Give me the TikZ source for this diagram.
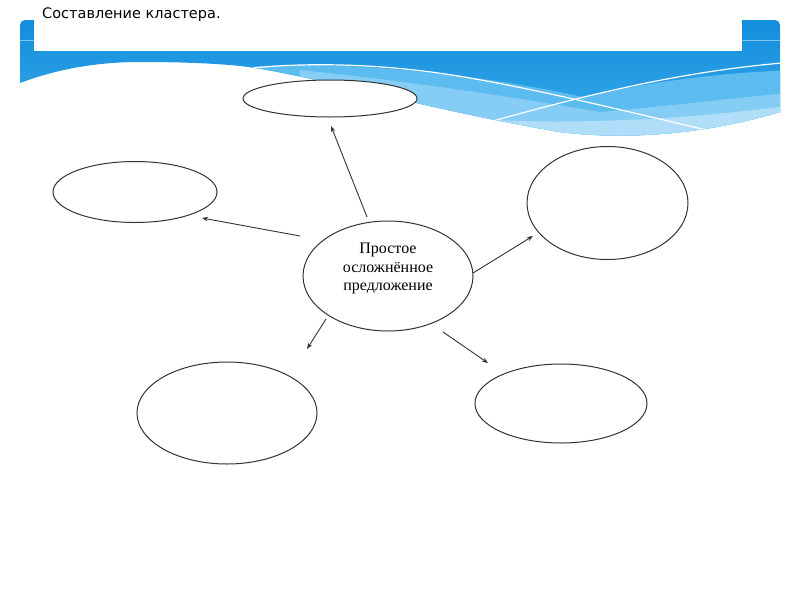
\documentclass[tikz,border=0pt]{standalone}
\usepackage{fontspec}
\setmainfont{Liberation Serif}
\newfontfamily\titlefont{DejaVu Sans}
\usetikzlibrary{shapes.geometric,arrows.meta}
\definecolor{bluetop}{HTML}{138DDC}
\definecolor{bluemid}{HTML}{3AADEA}
\definecolor{bandA}{HTML}{5CBBEF}
\definecolor{bandB}{HTML}{86CDF5}
\definecolor{bandC}{HTML}{B0DEF9}
\definecolor{edgegray}{HTML}{333333}
\newcommand\mybannerpath{(20,83) [rounded corners=5pt] -- (20,20) -- (780,20) [sharp corners] -- (780,112)
  .. controls (720,130) and (640,142) .. (560,132)
  .. controls (430,110) and (330,80) .. (255,68)
  .. controls (230,64) and (190,62) .. (140,62)
  .. controls (100,62) and (60,68) .. (20,83) -- cycle}
\begin{document}
\begin{tikzpicture}[x=1pt,y=-1pt,
  bubble/.style={ellipse,draw=edgegray,line width=1pt,fill=white,inner sep=0pt},
  arr/.style={draw=edgegray,line width=0.9pt,-{Stealth[length=6pt,width=4.5pt]}},
  wline/.style={draw=white,line width=1.2pt}]
\useasboundingbox (0,0) rectangle (800,600);
\fill[white] (0,0) rectangle (800,600);

% banner
\begin{scope}
\clip \mybannerpath;
\shade[top color=bluetop, bottom color=bluemid] (0,20) rectangle (800,140);
\fill[bandA] (250,67) .. controls (330,60) and (470,72) .. (583,97)
  .. controls (650,82) and (720,72) .. (800,70) -- (800,200) -- (250,200) -- cycle;
\fill[bandB] (300,70) .. controls (400,80) and (520,98) .. (600,112)
  .. controls (690,104) and (750,96) .. (800,92) -- (800,200) -- (300,200) -- cycle;
\fill[bandC] (460,118) .. controls (560,126) and (690,120) .. (800,104) -- (800,200) -- (460,200) -- cycle;
\draw[wline] (253,68) .. controls (300,63) and (380,62) .. (470,78) .. controls (560,94) and (640,115) .. (720,133);
\draw[wline] (493,121) .. controls (590,94) and (680,72) .. (782,63);
\draw[white,opacity=0.45,line width=0.8pt] (0,40) -- (800,40);
\end{scope}
\fill[white] (34,0) rectangle (742,51);

\node[anchor=base west,font=\titlefont\fontsize{14.5}{17}\selectfont,inner sep=0pt] (title) at (42,18.5) {Составление кластера.};

% nodes
\node[bubble,minimum width=174pt,minimum height=37pt] (top) at (330,98.5) {};
\node[bubble,minimum width=164pt,minimum height=61pt] (left) at (135,192) {};
\node[bubble,minimum width=161pt,minimum height=113pt] (right) at (607.5,203) {};
\node[bubble,minimum width=180pt,minimum height=102pt] (bl) at (227,413) {};
\node[bubble,minimum width=172pt,minimum height=79pt] (br) at (561,403.5) {};
\node[bubble,minimum width=170pt,minimum height=110pt] (c) at (388,276) {};
\node[align=center,inner sep=0pt,font=\fontsize{16}{18.5}\selectfont] (ctext) at (388,268.5) {Простое\\осложнённое\\предложение};

% arrows
\coordinate (a1s) at (367,217); \coordinate (a1e) at (331,126);
\coordinate (a2s) at (300,236); \coordinate (a2e) at (202,218);
\coordinate (a3s) at (473,273); \coordinate (a3e) at (533,236);
\coordinate (a4s) at (326,319); \coordinate (a4e) at (307,349);
\coordinate (a5s) at (443,332); \coordinate (a5e) at (488,363);
\draw[arr] (a1s) -- (a1e);
\draw[arr] (a2s) -- (a2e);
\draw[arr] (a3s) -- (a3e);
\draw[arr] (a4s) -- (a4e);
\draw[arr] (a5s) -- (a5e);
\end{tikzpicture}
\end{document}
